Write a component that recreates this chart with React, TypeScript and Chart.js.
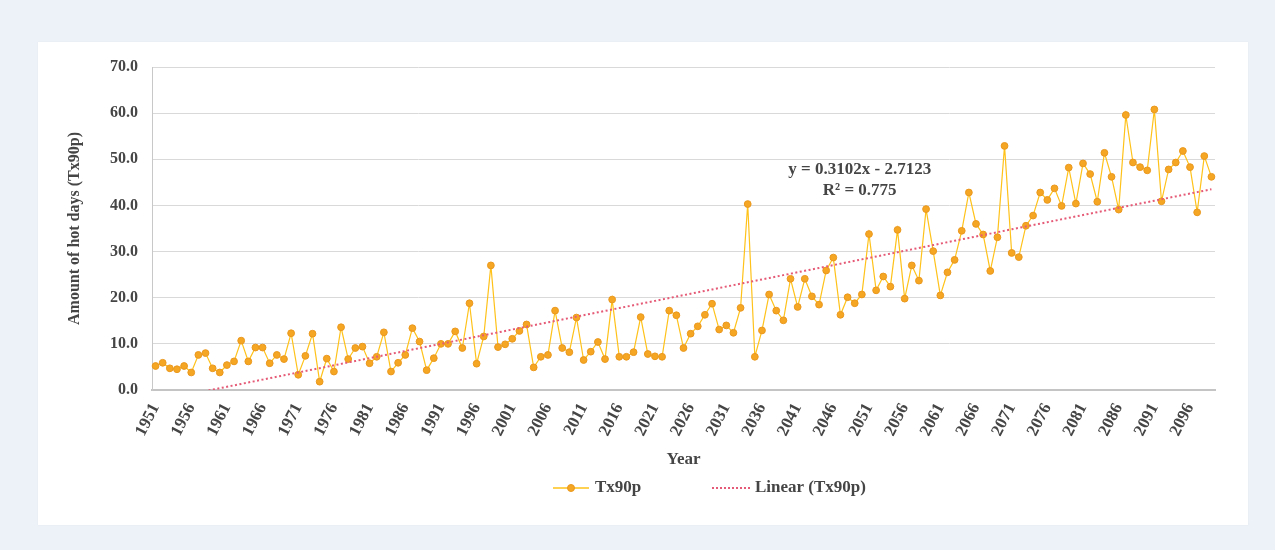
import React, { useEffect, useRef } from 'react';
import { Chart, registerables } from 'chart.js';

Chart.register(...registerables);

// ---- Data -------------------------------------------------------------
const FIRST_YEAR = 1951;
const TX90P: number[] = [
  5.2, 5.9, 4.7, 4.5, 5.2, 3.8, 7.6, 8.0, 4.7, 3.8,
  5.4, 6.2, 10.7, 6.2, 9.2, 9.2, 5.8, 7.6, 6.7, 12.3,
  3.3, 7.4, 12.2, 1.8, 6.8, 4.0, 13.6, 6.7, 9.1, 9.4,
  5.8, 7.2, 12.5, 4.0, 5.9, 7.6, 13.4, 10.5, 4.3, 6.9,
  10.0, 10.0, 12.7, 9.1, 18.8, 5.7, 11.6, 27.0, 9.3, 9.9,
  11.1, 12.8, 14.2, 4.9, 7.2, 7.6, 17.2, 9.1, 8.2, 15.7,
  6.5, 8.3, 10.4, 6.7, 19.6, 7.2, 7.2, 8.2, 15.8, 7.8,
  7.3, 7.2, 17.2, 16.2, 9.1, 12.2, 13.8, 16.3, 18.7, 13.1,
  14.0, 12.4, 17.8, 40.3, 7.2, 12.9, 20.7, 17.2, 15.1, 24.1,
  18.0, 24.1, 20.3, 18.5, 25.9, 28.7, 16.3, 20.1, 18.8, 20.7,
  33.8, 21.6, 24.6, 22.4, 34.7, 19.8, 27.0, 23.7, 39.2, 30.1,
  20.5, 25.5, 28.2, 34.5, 42.8, 36.0, 33.7, 25.8, 33.1, 52.9,
  29.7, 28.8, 35.6, 37.8, 42.8, 41.2, 43.7, 39.9, 48.2, 40.4,
  49.1, 46.8, 40.8, 51.4, 46.2, 39.1, 59.6, 49.3, 48.3, 47.6,
  60.8, 40.9, 47.8, 49.3, 51.8, 48.3, 38.5, 50.7, 46.2,
];
const YEARS: string[] = TX90P.map((_, i) => String(FIRST_YEAR + i));
const LABEL_EVERY = 5;

// Excel linear trendline (x = 1..n)
const TREND_SLOPE = 0.3102;
const TREND_INTERCEPT = -2.7123;
const TREND: number[] = TX90P.map((_, i) => TREND_SLOPE * (i + 1) + TREND_INTERCEPT);
const EQUATION_TEXT = 'y = 0.3102x - 2.7123';
const R2_TEXT = 'R\u00B2 = 0.775';

const Y_MIN = 0;
const Y_MAX = 70;
const Y_STEP = 10;

const SERIES_NAME = 'Tx90p';
const TREND_NAME = 'Linear (Tx90p)';
const X_TITLE = 'Year';
const Y_TITLE = 'Amount of hot days (Tx90p)';

// ---- Styles -----------------------------------------------------------
const FONT_FAMILY = '"Liberation Serif", "Times New Roman", serif';
const TEXT_COLOR = '#454545';
const LINE_COLOR = '#FFC21A';
const MARKER_FILL = '#F5A623';
const MARKER_BORDER = '#EA981E';
const TREND_COLOR = '#E55A76';

const textPlugin = {
  id: 'trendText',
  afterDatasetsDraw(chart: any) {
    const { ctx, scales } = chart;
    const x = scales.x;
    const y = scales.y;
    const cx = x.getPixelForValue(98.7);
    ctx.save();
    ctx.font = `bold 17px ${FONT_FAMILY}`;
    ctx.fillStyle = TEXT_COLOR;
    ctx.textAlign = 'center';
    ctx.textBaseline = 'middle';
    ctx.fillText(EQUATION_TEXT, cx, y.getPixelForValue(47.7));
    ctx.fillText(R2_TEXT, cx, y.getPixelForValue(43.3));
    ctx.restore();
  },
};

const legendPlugin = {
  id: 'customLegend',
  afterDraw(chart: any) {
    const { ctx, chartArea } = chart;
    const cy = chartArea.bottom + 98;
    const x1 = chartArea.left + 401;
    ctx.save();
    // Series symbol: line + marker
    ctx.strokeStyle = LINE_COLOR;
    ctx.lineWidth = 1.5;
    ctx.beginPath();
    ctx.moveTo(x1, cy);
    ctx.lineTo(x1 + 36, cy);
    ctx.stroke();
    ctx.beginPath();
    ctx.arc(x1 + 18, cy, 3.5, 0, Math.PI * 2);
    ctx.fillStyle = MARKER_FILL;
    ctx.fill();
    ctx.strokeStyle = MARKER_BORDER;
    ctx.lineWidth = 1;
    ctx.stroke();
    ctx.font = `bold 17px ${FONT_FAMILY}`;
    ctx.fillStyle = TEXT_COLOR;
    ctx.textAlign = 'left';
    ctx.textBaseline = 'middle';
    ctx.fillText(SERIES_NAME, x1 + 42, cy);
    // Trend symbol: dotted line
    const x2 = chartArea.left + 560;
    ctx.strokeStyle = TREND_COLOR;
    ctx.lineWidth = 2;
    ctx.setLineDash([2, 2]);
    ctx.beginPath();
    ctx.moveTo(x2, cy);
    ctx.lineTo(x2 + 38, cy);
    ctx.stroke();
    ctx.setLineDash([]);
    ctx.fillText(TREND_NAME, x2 + 43, cy);
    ctx.restore();
  },
};

export default function App() {
  const canvasRef = useRef<HTMLCanvasElement | null>(null);

  useEffect(() => {
    const canvas = canvasRef.current;
    if (!canvas) return;
    const chart = new Chart(canvas, {
      type: 'line',
      data: {
        labels: YEARS,
        datasets: [
          {
            label: SERIES_NAME,
            data: TX90P,
            borderColor: LINE_COLOR,
            borderWidth: 1.2,
            pointRadius: 3.4,
            pointBackgroundColor: MARKER_FILL,
            pointBorderColor: MARKER_BORDER,
            pointBorderWidth: 1,
            tension: 0,
            order: 2,
          },
          {
            label: TREND_NAME,
            data: TREND,
            borderColor: TREND_COLOR,
            borderWidth: 2,
            borderDash: [2, 2.5],
            pointRadius: 0,
            tension: 0,
            order: 1,
          },
        ],
      },
      options: {
        responsive: false,
        animation: false,
        events: [],
        layout: { padding: { left: 0, right: 33, top: 25, bottom: 0 } },
        plugins: {
          legend: { display: false },
          tooltip: { enabled: false },
        },
        scales: {
          x: {
            type: 'category',
            offset: true,
            grid: { display: false, drawTicks: false },
            border: { display: true, color: '#c4c4c4', width: 2 },
            ticks: {
              autoSkip: false,
              minRotation: 63,
              maxRotation: 63,
              padding: 10,
              color: TEXT_COLOR,
              font: { family: FONT_FAMILY, size: 17, weight: 'bold' },
              callback: (_v: any, i: number) => (i % LABEL_EVERY === 0 ? YEARS[i] : ''),
            },
            title: {
              display: true,
              text: X_TITLE,
              color: TEXT_COLOR,
              font: { family: FONT_FAMILY, size: 17, weight: 'bold' },
              padding: { top: 0, bottom: 55 },
            },
            afterFit: (scale: any) => {
              scale.height = 135;
            },
          },
          y: {
            min: Y_MIN,
            max: Y_MAX,
            grid: { color: '#d9d9d9', lineWidth: 1, drawTicks: false },
            border: { display: true, color: '#c8c8c8', width: 1 },
            ticks: {
              stepSize: Y_STEP,
              padding: 14,
              color: TEXT_COLOR,
              font: { family: FONT_FAMILY, size: 16, weight: 'bold' },
              callback: (v: any) => Number(v).toFixed(1),
            },
            title: {
              display: true,
              text: Y_TITLE,
              color: TEXT_COLOR,
              font: { family: FONT_FAMILY, size: 16, weight: 'bold' },
              padding: { top: 27, bottom: 0 },
            },
            afterFit: (scale: any) => {
              scale.width = 114;
            },
          },
        },
      },
      plugins: [textPlugin, legendPlugin],
    });
    return () => chart.destroy();
  }, []);

  return (
    <div style={{ position: 'fixed', inset: 0, background: '#edf1f8' }}>
      <div
        style={{
          position: 'absolute',
          left: 38,
          top: 42,
          width: 1210,
          height: 483,
          background: '#ffffff',
          boxShadow: '0 0 1px rgba(0,0,0,0.08)',
        }}
      >
        <canvas ref={canvasRef} width={1210} height={483} style={{ display: 'block' }} />
      </div>
    </div>
  );
}
